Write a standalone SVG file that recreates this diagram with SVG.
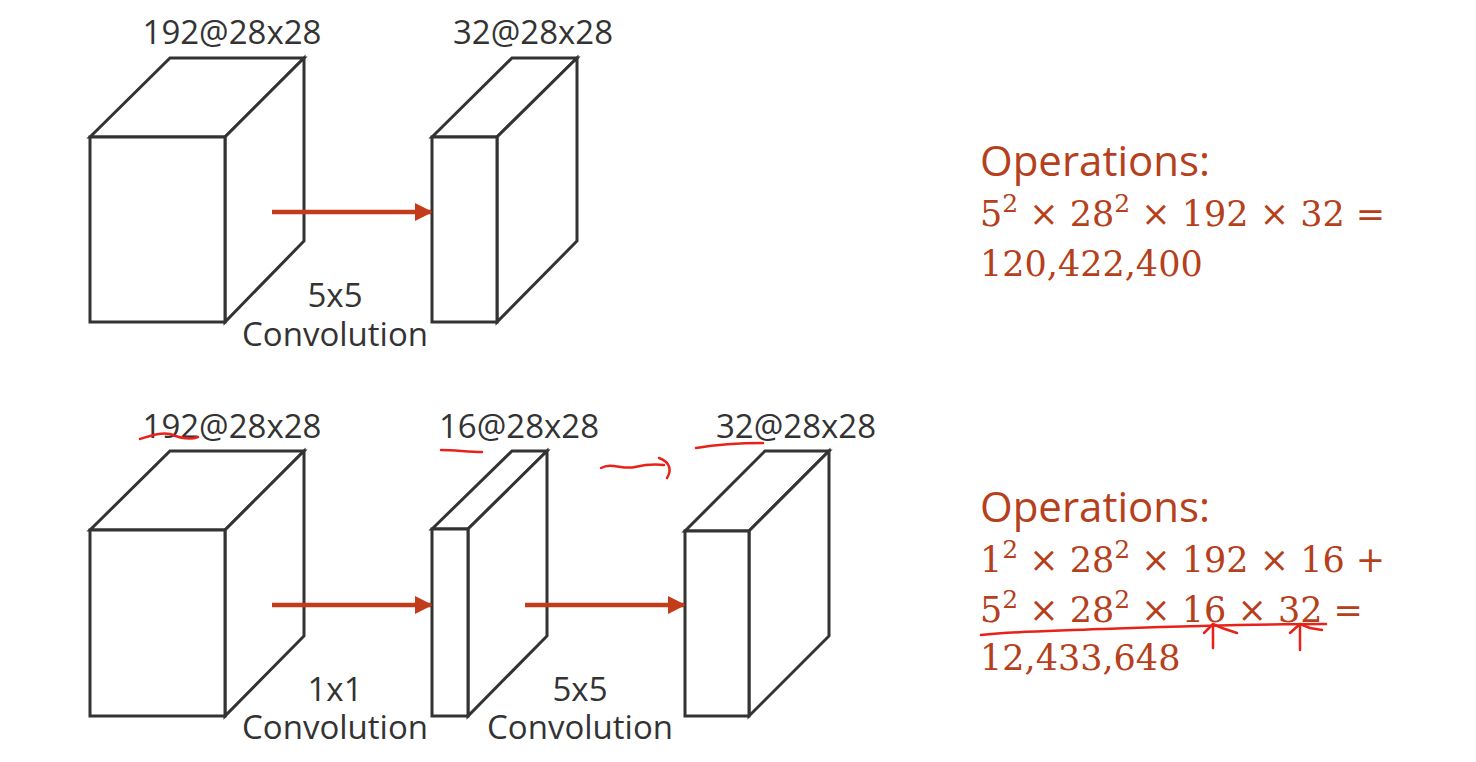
<svg xmlns="http://www.w3.org/2000/svg" width="1476" height="762" viewBox="0 0 1476 762">
<style>
.box{fill:#fff;stroke:#333;stroke-width:3;stroke-linejoin:miter}
.lbl{font-family:"Open Sans","Noto Sans",sans-serif;font-size:33px;fill:#333;text-anchor:middle}
.op{font-family:"Open Sans","Noto Sans",sans-serif;font-size:42px;fill:#B5401B}
.math{font-family:"DejaVu Serif","Liberation Serif",serif;font-size:35px;fill:#B5401B}
.sup{font-size:25px}
.arr{stroke:#C23B1A;stroke-width:4.5;fill:none}
.hand{stroke:#E8221A;stroke-width:2.5;fill:none;stroke-linecap:round;stroke-linejoin:round}
</style>
<defs>
<marker id="ah" viewBox="0 0 10 10" refX="9" refY="5" markerWidth="4" markerHeight="4" orient="auto" markerUnits="strokeWidth">
<path d="M0,0 L10,5 L0,10 z" fill="#C23B1A"/>
</marker>
</defs>
<rect width="1476" height="762" fill="#fff"/>

<g id="top-in">
<path class="box" d="M90,137 L170,58 L304,58 L225,137 Z"/>
<path class="box" d="M225,137 L304,58 L304,241 L225,322 Z"/>
<rect class="box" x="90" y="137" width="135" height="185"/>
<text class="lbl" x="232" y="44">192@28x28</text>
</g>
<g id="top-out">
<path class="box" d="M432,137 L512,58 L577,58 L497,137 Z"/>
<path class="box" d="M497,137 L577,58 L577,241 L497,322 Z"/>
<rect class="box" x="432" y="137" width="65" height="185"/>
<text class="lbl" x="533" y="44">32@28x28</text>
</g>
<g id="top-conv">
<text class="lbl" x="335" y="307">5x5<tspan x="335" dy="39">Convolution</tspan></text>
</g>

<g id="bot-in">
<path class="box" d="M90,530 L170,451 L304,451 L225,530 Z"/>
<path class="box" d="M225,530 L304,451 L304,636 L225,716 Z"/>
<rect class="box" x="90" y="530" width="135" height="186"/>
<text class="lbl" x="232" y="438">192@28x28</text>
</g>
<g id="bot-mid">
<path class="box" d="M432,529 L512,451 L547,451 L468,529 Z"/>
<path class="box" d="M468,529 L547,451 L547,636 L468,716 Z"/>
<rect class="box" x="432" y="529" width="36" height="187"/>
<text class="lbl" x="519" y="438">16@28x28</text>
</g>
<g id="bot-out">
<path class="box" d="M685,531 L765,451 L829,451 L749,531 Z"/>
<path class="box" d="M749,531 L829,451 L829,636 L749,716 Z"/>
<rect class="box" x="685" y="531" width="64" height="185"/>
<text class="lbl" x="796" y="438">32@28x28</text>
</g>
<g id="bot-conv1">
<text class="lbl" x="335" y="701">1x1<tspan x="335" dy="38">Convolution</tspan></text>
</g>
<g id="bot-conv2">
<text class="lbl" x="580" y="701">5x5<tspan x="580" dy="38">Convolution</tspan></text>
</g>

<g id="connectors">
<line class="arr" x1="272" y1="212" x2="431" y2="212" marker-end="url(#ah)"/>
<line class="arr" x1="272" y1="605" x2="431" y2="605" marker-end="url(#ah)"/>
<line class="arr" x1="525" y1="605" x2="684" y2="605" marker-end="url(#ah)"/>
</g>

<g id="ops-top">
<text class="op" x="980" y="176">Operations:</text>
<text class="math" x="980" y="226">5<tspan class="sup" dy="-14">2</tspan><tspan dy="14"> × 28</tspan><tspan class="sup" dy="-14">2</tspan><tspan dy="14"> × 192 × 32 =</tspan></text>
<text class="math" x="980" y="276">120,422,400</text>
</g>
<g id="ops-bot">
<text class="op" x="980" y="522">Operations:</text>
<text class="math" x="980" y="572">1<tspan class="sup" dy="-14">2</tspan><tspan dy="14"> × 28</tspan><tspan class="sup" dy="-14">2</tspan><tspan dy="14"> × 192 × 16 +</tspan></text>
<text class="math" x="980" y="622">5<tspan class="sup" dy="-14">2</tspan><tspan dy="14"> × 28</tspan><tspan class="sup" dy="-14">2</tspan><tspan dy="14"> × 16 × 32 =</tspan></text>
<text class="math" x="980" y="670">12,433,648</text>
</g>

<g id="annotations">
<path class="hand" d="M140,439 C150,436 160,432 170,434 C180,438 190,440 198,437"/>
<path class="hand" d="M441,450 C455,450 468,452 482,452"/>
<path class="hand" d="M696,448 C720,444 740,443 763,443"/>
<path class="hand" d="M601,468 C612,462 622,470 635,467 C648,464 655,464 664,465 M659,458 C670,462 672,470 667,478"/>
<path class="hand" d="M981,635 C1020,631 1060,631 1100,629 C1160,627 1240,624 1326,624"/>
<path class="hand" d="M1213,648 L1213,626 M1204,633 L1213,624 L1222,628 L1237,633"/>
<path class="hand" d="M1300,650 L1300,626 M1290,633 L1300,624 L1310,628 L1322,630"/>
</g>
</svg>
